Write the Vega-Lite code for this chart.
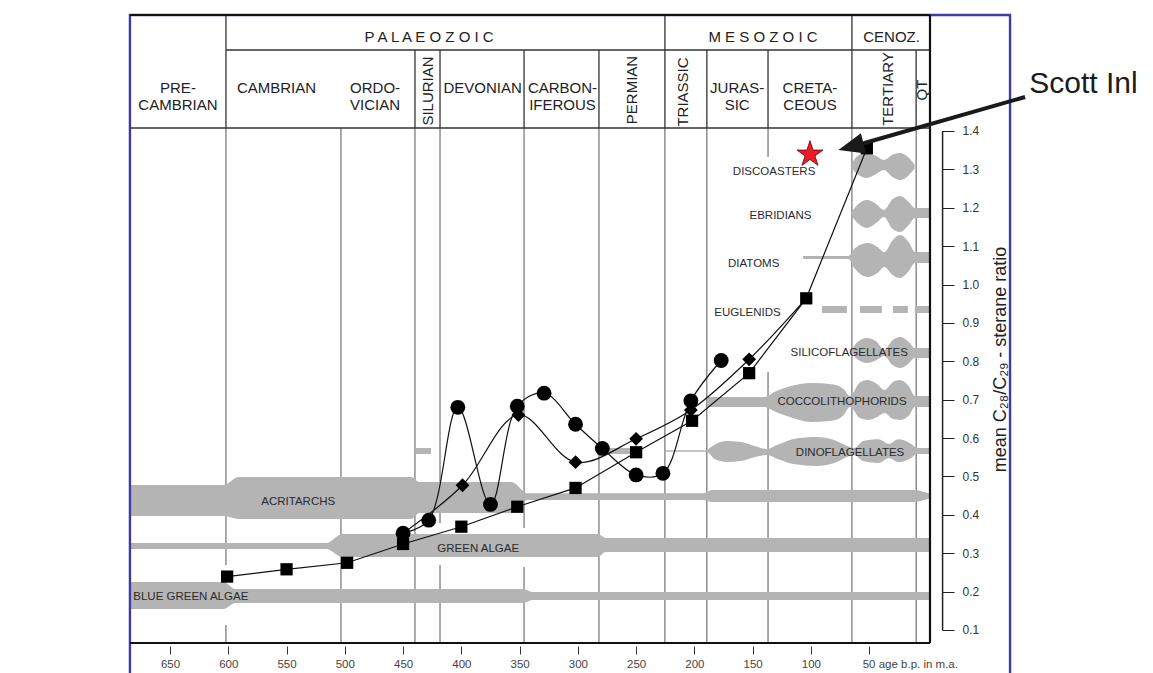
{
  "$schema": "https://vega.github.io/schema/vega-lite/v6.json",
  "width": 799,
  "height": 628,
  "autosize": {"type": "none"},
  "padding": {"left": 131, "top": 15, "right": 223, "bottom": 30},
  "background": "white",
  "config": {"view": {"stroke": null}, "font": "Liberation Sans"},
  "datasets": {
    "plines": [
      {"age": 602, "v": 1.4078, "v2": 0.2692}, {"age": 602, "v": 0.1129, "v2": 0.066},
      {"age": 503.3, "v": 1.4078, "v2": 0.066},
      {"age": 439.8, "v": 1.4078, "v2": 0.066},
      {"age": 418.3, "v": 1.4078, "v2": 0.3786}, {"age": 418.3, "v": 0.269, "v2": 0.066},
      {"age": 346.2, "v": 1.4078, "v2": 0.3656}, {"age": 346.2, "v": 0.264, "v2": 0.066},
      {"age": 281.9, "v": 1.4078, "v2": 0.066},
      {"age": 225.3, "v": 1.4078, "v2": 0.066},
      {"age": 189.3, "v": 1.4078, "v2": 0.066},
      {"age": 136.8, "v": 1.4078, "v2": 1.3323}, {"age": 136.8, "v": 0.7721, "v2": 0.066},
      {"age": 64.8, "v": 1.4078, "v2": 0.066},
      {"age": 9.7, "v": 1.4078, "v2": 0.066}
    ],
    "bands": [
      {"b": "bga", "age": 683.5, "v": 0.1546, "v2": 0.2249},
      {"b": "bga", "age": 604, "v": 0.1546, "v2": 0.2249},
      {"b": "bga", "age": 594, "v": 0.1702, "v2": 0.2067},
      {"b": "bga", "age": 347, "v": 0.1702, "v2": 0.2067},
      {"b": "bga", "age": 339, "v": 0.178, "v2": 0.1989},
      {"b": "bga", "age": -2.2, "v": 0.178, "v2": 0.1989},

      {"b": "ga", "age": 683.5, "v": 0.3109, "v2": 0.3265},
      {"b": "ga", "age": 516, "v": 0.3109, "v2": 0.3265},
      {"b": "ga", "age": 502, "v": 0.2901, "v2": 0.35},
      {"b": "ga", "age": 283, "v": 0.2901, "v2": 0.35},
      {"b": "ga", "age": 276, "v": 0.3031, "v2": 0.3396},
      {"b": "ga", "age": -2.2, "v": 0.3031, "v2": 0.3396},

      {"b": "acr", "age": 683.5, "v": 0.3969, "v2": 0.4776},
      {"b": "acr", "age": 604, "v": 0.3969, "v2": 0.4776},
      {"b": "acr", "age": 591, "v": 0.389, "v2": 0.4985},
      {"b": "acr", "age": 443, "v": 0.389, "v2": 0.4985},
      {"b": "acr", "age": 436, "v": 0.4047, "v2": 0.4855},
      {"b": "acr", "age": 357, "v": 0.4047, "v2": 0.4855},
      {"b": "acr", "age": 343, "v": 0.4386, "v2": 0.456},
      {"b": "acr", "age": 192, "v": 0.4386, "v2": 0.456},
      {"b": "acr", "age": 185, "v": 0.4333, "v2": 0.4646},
      {"b": "acr", "age": 12, "v": 0.4333, "v2": 0.4646},
      {"b": "acr", "age": -2.2, "v": 0.444, "v2": 0.454},

      {"b": "dino1", "age": 439.8, "v": 0.5584, "v2": 0.574},
      {"b": "dino1", "age": 426, "v": 0.5584, "v2": 0.574},
      {"b": "dino2", "age": 276, "v": 0.5584, "v2": 0.574},
      {"b": "dino2", "age": 253, "v": 0.5584, "v2": 0.574},
      {"b": "dino3", "age": 225.3, "v": 0.5642, "v2": 0.5682},
      {"b": "dino3", "age": 190, "v": 0.5642, "v2": 0.5682},
      {"b": "dino3", "age": 186, "v": 0.556, "v2": 0.576},
      {"b": "dino3", "age": 183, "v": 0.5454, "v2": 0.5819},
      {"b": "dino3", "age": 172, "v": 0.5376, "v2": 0.5923},
      {"b": "dino3", "age": 160, "v": 0.54, "v2": 0.59},
      {"b": "dino3", "age": 148, "v": 0.5506, "v2": 0.5793},
      {"b": "dino3", "age": 138, "v": 0.5558, "v2": 0.5714},
      {"b": "dino3", "age": 128, "v": 0.545, "v2": 0.583},
      {"b": "dino3", "age": 115, "v": 0.5324, "v2": 0.5975},
      {"b": "dino3", "age": 95, "v": 0.5272, "v2": 0.6027},
      {"b": "dino3", "age": 80, "v": 0.535, "v2": 0.595},
      {"b": "dino3", "age": 68, "v": 0.552, "v2": 0.578},
      {"b": "dino3", "age": 63, "v": 0.556, "v2": 0.574},
      {"b": "dino3", "age": 55, "v": 0.54, "v2": 0.592},
      {"b": "dino3", "age": 42, "v": 0.535, "v2": 0.597},
      {"b": "dino3", "age": 33, "v": 0.548, "v2": 0.585},
      {"b": "dino3", "age": 25, "v": 0.537, "v2": 0.597},
      {"b": "dino3", "age": 14, "v": 0.548, "v2": 0.585},
      {"b": "dino3", "age": 9, "v": 0.5584, "v2": 0.574},
      {"b": "dino3", "age": -2.2, "v": 0.5584, "v2": 0.574},

      {"b": "cocco", "age": 189, "v": 0.6809, "v2": 0.7069},
      {"b": "cocco", "age": 140, "v": 0.6809, "v2": 0.7069},
      {"b": "cocco", "age": 130, "v": 0.668, "v2": 0.722},
      {"b": "cocco", "age": 118, "v": 0.655, "v2": 0.735},
      {"b": "cocco", "age": 100, "v": 0.6419, "v2": 0.7434},
      {"b": "cocco", "age": 82, "v": 0.645, "v2": 0.74},
      {"b": "cocco", "age": 72, "v": 0.66, "v2": 0.728},
      {"b": "cocco", "age": 66.5, "v": 0.6809, "v2": 0.7095},
      {"b": "cocco", "age": 58, "v": 0.652, "v2": 0.745},
      {"b": "cocco", "age": 51, "v": 0.647, "v2": 0.7512},
      {"b": "cocco", "age": 43, "v": 0.655, "v2": 0.74},
      {"b": "cocco", "age": 37, "v": 0.6652, "v2": 0.7252},
      {"b": "cocco", "age": 30, "v": 0.65, "v2": 0.745},
      {"b": "cocco", "age": 23.6, "v": 0.647, "v2": 0.7512},
      {"b": "cocco", "age": 16, "v": 0.658, "v2": 0.735},
      {"b": "cocco", "age": 10.8, "v": 0.6809, "v2": 0.7095},
      {"b": "cocco", "age": -2.2, "v": 0.6809, "v2": 0.7095},

      {"b": "silico", "age": 65, "v": 0.825, "v2": 0.83},
      {"b": "silico", "age": 60, "v": 0.805, "v2": 0.85},
      {"b": "silico", "age": 52, "v": 0.7955, "v2": 0.8607},
      {"b": "silico", "age": 44, "v": 0.803, "v2": 0.852},
      {"b": "silico", "age": 37, "v": 0.8138, "v2": 0.8294},
      {"b": "silico", "age": 30, "v": 0.79, "v2": 0.855},
      {"b": "silico", "age": 23, "v": 0.7825, "v2": 0.8633},
      {"b": "silico", "age": 16, "v": 0.795, "v2": 0.85},
      {"b": "silico", "age": 11, "v": 0.8086, "v2": 0.8346},
      {"b": "silico", "age": -2.2, "v": 0.8086, "v2": 0.8346},

      {"b": "eug1", "age": 90.5, "v": 0.9258, "v2": 0.944},
      {"b": "eug1", "age": 69.1, "v": 0.9258, "v2": 0.944},
      {"b": "eug2", "age": 57.9, "v": 0.9258, "v2": 0.944},
      {"b": "eug2", "age": 39.1, "v": 0.9258, "v2": 0.944},
      {"b": "eug3", "age": 29.6, "v": 0.9258, "v2": 0.944},
      {"b": "eug3", "age": 16.8, "v": 0.9258, "v2": 0.944},
      {"b": "eug4", "age": 10.8, "v": 0.9258, "v2": 0.944},
      {"b": "eug4", "age": -2.2, "v": 0.9258, "v2": 0.944},

      {"b": "diat", "age": 106.7, "v": 1.0665, "v2": 1.0743},
      {"b": "diat", "age": 68, "v": 1.0665, "v2": 1.0743},
      {"b": "diat", "age": 62, "v": 1.04, "v2": 1.095},
      {"b": "diat", "age": 51, "v": 1.0196, "v2": 1.1082},
      {"b": "diat", "age": 43, "v": 1.03, "v2": 1.098},
      {"b": "diat", "age": 37, "v": 1.0457, "v2": 1.0847},
      {"b": "diat", "age": 30, "v": 1.025, "v2": 1.115},
      {"b": "diat", "age": 23.6, "v": 1.017, "v2": 1.129},
      {"b": "diat", "age": 16, "v": 1.035, "v2": 1.11},
      {"b": "diat", "age": 10.8, "v": 1.0561, "v2": 1.0847},
      {"b": "diat", "age": -2.2, "v": 1.0561, "v2": 1.0847},

      {"b": "ebri", "age": 65, "v": 1.18, "v2": 1.19},
      {"b": "ebri", "age": 60, "v": 1.16, "v2": 1.208},
      {"b": "ebri", "age": 52, "v": 1.1473, "v2": 1.2202},
      {"b": "ebri", "age": 44, "v": 1.16, "v2": 1.21},
      {"b": "ebri", "age": 37.4, "v": 1.1759, "v2": 1.1942},
      {"b": "ebri", "age": 30, "v": 1.145, "v2": 1.222},
      {"b": "ebri", "age": 23.6, "v": 1.1368, "v2": 1.2306},
      {"b": "ebri", "age": 16, "v": 1.155, "v2": 1.215},
      {"b": "ebri", "age": 10.8, "v": 1.1733, "v2": 1.1994},
      {"b": "ebri", "age": -2.2, "v": 1.1733, "v2": 1.1994},

      {"b": "disco", "age": 65, "v": 1.305, "v2": 1.315},
      {"b": "disco", "age": 60, "v": 1.287, "v2": 1.335},
      {"b": "disco", "age": 52, "v": 1.2775, "v2": 1.3427},
      {"b": "disco", "age": 44, "v": 1.288, "v2": 1.335},
      {"b": "disco", "age": 37.4, "v": 1.2984, "v2": 1.3244},
      {"b": "disco", "age": 30, "v": 1.28, "v2": 1.338},
      {"b": "disco", "age": 23.6, "v": 1.2723, "v2": 1.3427},
      {"b": "disco", "age": 16, "v": 1.285, "v2": 1.33},
      {"b": "disco", "age": 11, "v": 1.302, "v2": 1.312}
    ],
    "bandLabels": [
      {"t": "BLUE GREEN ALGAE", "age": 632.2, "v": 0.1866},
      {"t": "GREEN ALGAE", "age": 385.5, "v": 0.3109},
      {"t": "ACRITARCHS", "age": 540.0, "v": 0.4326},
      {"t": "DINOFLAGELLATES", "age": 66.4, "v": 0.5618},
      {"t": "COCCOLITHOPHORIDS", "age": 73.3, "v": 0.6947},
      {"t": "SILICOFLAGELLATES", "age": 67.1, "v": 0.8224},
      {"t": "EUGLENIDS", "age": 154.4, "v": 0.9266},
      {"t": "DIATOMS", "age": 149.1, "v": 1.0535},
      {"t": "EBRIDIANS", "age": 126.1, "v": 1.1785},
      {"t": "DISCOASTERS", "age": 131.6, "v": 1.294}
    ],
    "border": [{"age": 684.4, "age2": -70.9, "v": 1.7022, "v2": -0.3}],
    "headH": [
      {"age": 602, "age2": -2.2, "v": 1.611},
      {"age": 683.5, "age2": -2.2, "v": 1.4078}
    ],
    "headV": [
      {"age": 602, "v": 1.7022, "v2": 1.4078},
      {"age": 439.8, "v": 1.611, "v2": 1.4078},
      {"age": 418.3, "v": 1.611, "v2": 1.4078},
      {"age": 346.2, "v": 1.611, "v2": 1.4078},
      {"age": 281.9, "v": 1.611, "v2": 1.4078},
      {"age": 225.3, "v": 1.7022, "v2": 1.4078},
      {"age": 189.3, "v": 1.611, "v2": 1.4078},
      {"age": 136.8, "v": 1.611, "v2": 1.4078},
      {"age": 64.8, "v": 1.7022, "v2": 1.4078},
      {"age": 9.7, "v": 1.611, "v2": 1.4078}
    ],
    "frameH": [
      {"age": 684.4, "age2": -2.2, "v": 1.7022},
      {"age": 684.4, "age2": -2.2, "v": 0.066}
    ],
    "frameV": [{"age": -2.2, "v": 1.7022, "v2": 0.066}],
    "eras": [
      {"t": "P A L A E O Z O I C", "age": 427.7, "v": 1.6449},
      {"t": "M E S O Z O I C", "age": 141.1, "v": 1.6449},
      {"t": "CENOZ.", "age": 30.8, "v": 1.6449}
    ],
    "periods": [
      {"t": "PRE-|CAMBRIAN", "age": 643.2, "v": 1.512},
      {"t": "CAMBRIAN", "age": 558.6, "v": 1.512},
      {"t": "ORDO-|VICIAN", "age": 474.0, "v": 1.512},
      {"t": "DEVONIAN", "age": 381.8, "v": 1.512},
      {"t": "CARBON-|IFEROUS", "age": 313.2, "v": 1.512},
      {"t": "JURAS-|SIC", "age": 163.3, "v": 1.512},
      {"t": "CRETA-|CEOUS", "age": 100.8, "v": 1.512}
    ],
    "periodsV": [
      {"t": "SILURIAN", "age": 428.9, "v": 1.5042},
      {"t": "PERMIAN", "age": 253.8, "v": 1.5068},
      {"t": "TRIASSIC", "age": 209.5, "v": 1.5016},
      {"t": "TERTIARY", "age": 33.6, "v": 1.5094},
      {"t": "QT", "age": 4.6, "v": 1.5068}
    ],
    "yline": [{"age": -13, "v": 1.4, "v2": 0.1}],
    "series": [
      {"s": "sq", "age": 601, "v": 0.239},
      {"s": "sq", "age": 550, "v": 0.258},
      {"s": "sq", "age": 498, "v": 0.275},
      {"s": "sq", "age": 450, "v": 0.324},
      {"s": "sq", "age": 400, "v": 0.369},
      {"s": "sq", "age": 352, "v": 0.421},
      {"s": "sq", "age": 302, "v": 0.47},
      {"s": "sq", "age": 250, "v": 0.563},
      {"s": "sq", "age": 202, "v": 0.645},
      {"s": "sq", "age": 153, "v": 0.769},
      {"s": "sq", "age": 104, "v": 0.964},
      {"s": "sq", "age": 52, "v": 1.355},
      {"s": "ci", "age": 450, "v": 0.352},
      {"s": "ci", "age": 428, "v": 0.386},
      {"s": "ci", "age": 403, "v": 0.68},
      {"s": "ci", "age": 375, "v": 0.427},
      {"s": "ci", "age": 352, "v": 0.683},
      {"s": "ci", "age": 329, "v": 0.717},
      {"s": "ci", "age": 302, "v": 0.636},
      {"s": "ci", "age": 279, "v": 0.573},
      {"s": "ci", "age": 250, "v": 0.504},
      {"s": "ci", "age": 227, "v": 0.508},
      {"s": "ci", "age": 203, "v": 0.697},
      {"s": "ci", "age": 177, "v": 0.802},
      {"s": "di", "age": 450, "v": 0.352},
      {"s": "di", "age": 399, "v": 0.477},
      {"s": "di", "age": 351, "v": 0.66},
      {"s": "di", "age": 302, "v": 0.537},
      {"s": "di", "age": 250, "v": 0.598},
      {"s": "di", "age": 203, "v": 0.673},
      {"s": "di", "age": 153, "v": 0.805},
      {"s": "di", "age": 104, "v": 0.964}
    ],
    "star": [{"age": 100.8, "v": 1.3393}],
    "arrow": [{"age": -83.8, "v": 1.4886, "age2": 54.7, "v2": 1.368}],
    "arrowHead": [{"age": 65.6, "v": 1.359}],
    "callout": [{"t": "Scott Inl", "age": -87.4, "v": 1.4977}]
  },
  "encoding": {
    "x": {
      "field": "age",
      "type": "quantitative",
      "scale": {"domain": [683.5, -2.2], "nice": false, "zero": false},
      "axis": {
        "orient": "bottom",
        "values": [650, 600, 550, 500, 450, 400, 350, 300, 250, 200, 150, 100, 50],
        "domain": false,
        "grid": false,
        "offset": 3,
        "tickSize": 8,
        "tickColor": "#333",
        "labelFont": "Liberation Sans",
        "labelFontSize": 11.5,
        "labelColor": "#444",
        "labelPadding": 4,
        "labelOverlap": false,
        "labelFlush": false,
        "labelBound": false,
        "labelExpr": "datum.value == 50 ? '50 age b.p. in m.a.' : datum.label",
        "labelAlign": {"condition": {"test": "datum.value == 50", "value": "left"}, "value": "center"},
        "labelOffset": {"condition": {"test": "datum.value == 50", "value": -7}, "value": 0},
        "title": null
      }
    },
    "y": {
      "field": "v",
      "type": "quantitative",
      "scale": {"domain": [0.066, 1.7022], "nice": false, "zero": false},
      "axis": {
        "orient": "right",
        "values": [0.1, 0.2, 0.3, 0.4, 0.5, 0.6, 0.7, 0.8, 0.9, 1.0, 1.1, 1.2, 1.3, 1.4],
        "format": ".1f",
        "domain": false,
        "grid": false,
        "offset": 12,
        "tickSize": 12,
        "tickColor": "#222",
        "labelFont": "Liberation Sans",
        "labelFontSize": 12,
        "labelColor": "#333",
        "labelPadding": 8,
        "labelOverlap": false,
        "labelBound": false,
        "title": "mean C₂₈/C₂₉ - sterane ratio",
        "titleFont": "Liberation Sans",
        "titleFontSize": 18,
        "titleFontWeight": "normal",
        "titleColor": "#222",
        "titleAngle": 270,
        "titleAlign": "center",
        "titleBaseline": "middle",
        "titleX": 58,
        "titleY": 344
      }
    }
  },
  "layer": [
    {
      "data": {"name": "plines"},
      "mark": {"type": "rule", "color": "#555", "strokeWidth": 1},
      "encoding": {"y2": {"field": "v2"}}
    },
    {
      "data": {"name": "bands"},
      "mark": {"type": "area", "interpolate": "monotone", "color": "#b4b4b4", "opacity": 1},
      "encoding": {"y2": {"field": "v2"}, "detail": {"field": "b"}}
    },
    {
      "data": {"name": "bandLabels"},
      "mark": {"type": "text", "font": "Liberation Sans", "fontSize": 11.5, "color": "#2b2b2b", "align": "center", "baseline": "middle"},
      "encoding": {"text": {"field": "t"}}
    },
    {
      "data": {"name": "border"},
      "mark": {"type": "rect", "filled": false, "color": "#3c3ca8", "strokeWidth": 2.4},
      "encoding": {"x2": {"field": "age2"}, "y2": {"field": "v2"}}
    },
    {
      "data": {"name": "headH"},
      "mark": {"type": "rule", "color": "#333", "strokeWidth": 1.3},
      "encoding": {"x2": {"field": "age2"}}
    },
    {
      "data": {"name": "headV"},
      "mark": {"type": "rule", "color": "#333", "strokeWidth": 1.3},
      "encoding": {"y2": {"field": "v2"}}
    },
    {
      "data": {"name": "frameH"},
      "mark": {"type": "rule", "color": "#111", "strokeWidth": 2.2},
      "encoding": {"x2": {"field": "age2"}}
    },
    {
      "data": {"name": "frameV"},
      "mark": {"type": "rule", "color": "#111", "strokeWidth": 2.2},
      "encoding": {"y2": {"field": "v2"}}
    },
    {
      "data": {"name": "eras"},
      "mark": {"type": "text", "font": "Liberation Sans", "fontSize": 15, "color": "#222", "align": "center", "baseline": "middle"},
      "encoding": {"text": {"field": "t"}}
    },
    {
      "data": {"name": "periods"},
      "mark": {"type": "text", "font": "Liberation Sans", "fontSize": 15, "color": "#222", "align": "center", "baseline": "middle", "lineBreak": "|", "lineHeight": 17},
      "encoding": {"text": {"field": "t"}}
    },
    {
      "data": {"name": "periodsV"},
      "mark": {"type": "text", "font": "Liberation Sans", "fontSize": 15, "color": "#222", "align": "center", "baseline": "middle", "angle": 270},
      "encoding": {"text": {"field": "t"}}
    },
    {
      "data": {"name": "yline"},
      "mark": {"type": "rule", "color": "#222", "strokeWidth": 1.5},
      "encoding": {"y2": {"field": "v2"}}
    },
    {
      "data": {"name": "series"},
      "transform": [{"filter": "datum.s == 'sq'"}],
      "mark": {"type": "line", "color": "#111", "strokeWidth": 1.2},
      "encoding": {}
    },
    {
      "data": {"name": "series"},
      "transform": [{"filter": "datum.s != 'sq'"}],
      "mark": {"type": "line", "interpolate": "catmull-rom", "color": "#111", "strokeWidth": 1.2},
      "encoding": {"detail": {"field": "s"}}
    },
    {
      "data": {"name": "series"},
      "transform": [{"filter": "datum.s == 'di' && datum.age > 110 && datum.age < 440"}],
      "mark": {"type": "point", "shape": "diamond", "filled": true, "color": "#000", "opacity": 1, "size": 190},
      "encoding": {}
    },
    {
      "data": {"name": "series"},
      "transform": [{"filter": "datum.s == 'sq'"}],
      "mark": {"type": "point", "shape": "square", "filled": true, "color": "#000", "opacity": 1, "size": 150},
      "encoding": {}
    },
    {
      "data": {"name": "series"},
      "transform": [{"filter": "datum.s == 'ci'"}],
      "mark": {"type": "point", "shape": "circle", "filled": true, "color": "#000", "opacity": 1, "size": 220},
      "encoding": {}
    },
    {
      "data": {"name": "star"},
      "mark": {
        "type": "point",
        "shape": "M0,-1L0.2245,-0.309L0.951,-0.309L0.3633,0.118L0.588,0.809L0,0.382L-0.588,0.809L-0.3633,0.118L-0.951,-0.309L-0.2245,-0.309Z",
        "filled": true,
        "fill": "#ec1c24",
        "stroke": "#5a0a0a",
        "strokeWidth": 0.8,
        "opacity": 1,
        "size": 750
      },
      "encoding": {}
    },
    {
      "data": {"name": "arrow"},
      "mark": {"type": "rule", "color": "#1a1a1a", "strokeWidth": 4},
      "encoding": {"x2": {"field": "age2"}, "y2": {"field": "v2"}}
    },
    {
      "data": {"name": "arrowHead"},
      "mark": {"type": "point", "shape": "M1,0L-1,-0.8L-1,0.8Z", "filled": true, "color": "#1a1a1a", "opacity": 1, "size": 676, "angle": 165},
      "encoding": {}
    },
    {
      "data": {"name": "callout"},
      "mark": {"type": "text", "font": "Liberation Sans", "fontSize": 30, "color": "#1b1b1b", "align": "left", "baseline": "alphabetic"},
      "encoding": {"text": {"field": "t"}}
    }
  ]
}
